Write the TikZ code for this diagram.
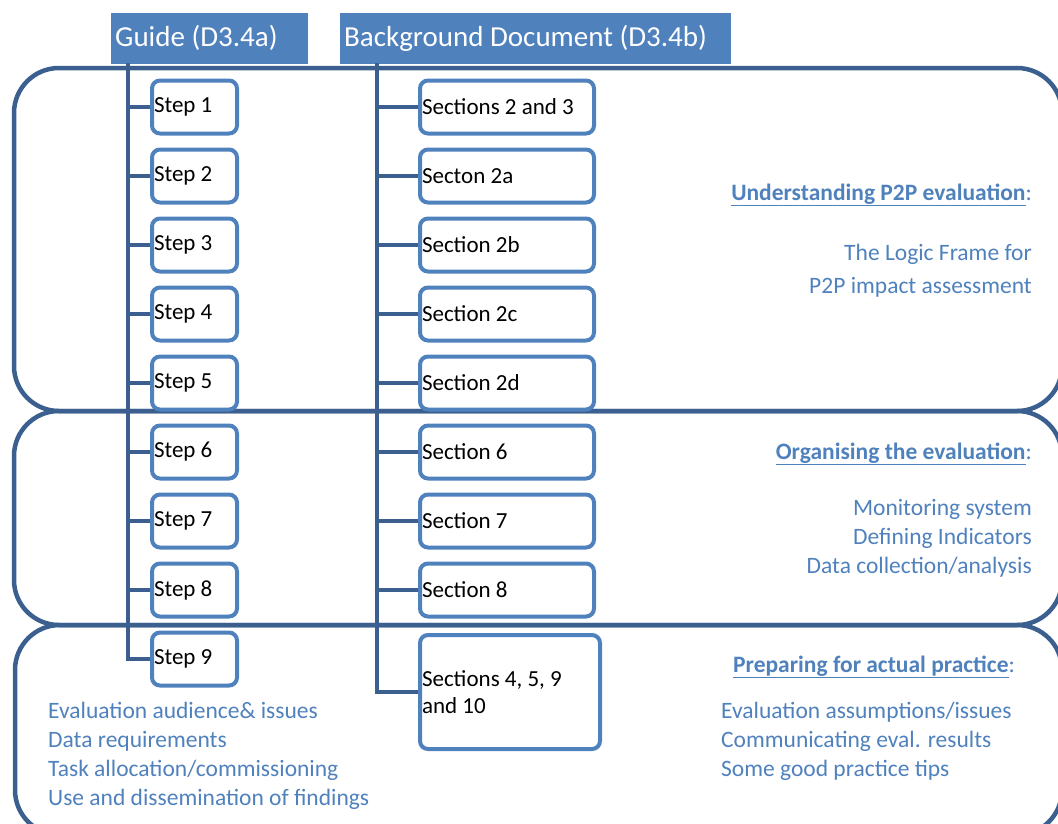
\documentclass[tikz,border=0pt]{standalone}
\usepackage{fontspec}
\setmainfont{Carlito}
\usetikzlibrary{positioning}

\definecolor{headblue}{RGB}{79,129,189}
\definecolor{lineblue}{RGB}{59,96,143}

\begin{document}
\begin{tikzpicture}[x=1pt, y=-1pt]
		\tikzstyle{head} = [fill=headblue, draw=headblue, text=white, anchor=north west, minimum height=50pt, inner xsep=4pt, font=\fontsize{29}{34}\selectfont]
		\tikzstyle{stepbox} = [draw=headblue, fill=white, line width=4pt, rounded corners=8pt, anchor=west, minimum height=53pt, inner xsep=2pt, text width=81pt, align=left, execute at begin node={\spaceskip=0pt\xspaceskip=0pt\relax}, font=\fontsize{23}{27}\selectfont]
		\tikzstyle{secbox} = [stepbox, text width=170pt]
		\tikzstyle{region} = [draw=lineblue, line width=4.5pt, rounded corners=45pt]
		\tikzstyle{trunk} = [draw=lineblue, line width=4pt]
		\tikzstyle{note} = [text=headblue, inner sep=0pt, font=\fontsize{23.5}{29}\selectfont]
		
		\useasboundingbox (0,0) rectangle (1058,823);
		
		% the three bands
		\begin{scope}
		\clip (0,0) rectangle (1058,823);
		\draw[region] (14,68) rectangle (1062,411);
		\draw[region] (14,411) rectangle (1062,625);
		\draw[region] (15,625) rectangle (1062,835);
		\end{scope}
		
		\node[head]		at (111,13)		(guide)		{\makebox[188pt][l]{Guide (D3.4a)}};
		\node[head]		at (340,13)		(backdoc)	{\makebox[382pt][l]{Background Document (D3.4b)}};
		
		\node[stepbox]	at (150,107)	(s1)	{Step 1};
		\node[stepbox]	at (150,176)	(s2)	{Step 2};
		\node[stepbox]	at (150,245)	(s3)	{Step 3};
		\node[stepbox]	at (150,314)	(s4)	{Step 4};
		\node[stepbox]	at (150,383)	(s5)	{Step 5};
		\node[stepbox]	at (150,452)	(s6)	{Step 6};
		\node[stepbox]	at (150,521)	(s7)	{Step 7};
		\node[stepbox]	at (150,590)	(s8)	{Step 8};
		\node[stepbox]	at (150,659)	(s9)	{Step 9};
		
		\node[secbox]	at (418,107)	(b1)	{Sections 2 and 3};
		\node[secbox]	at (418,176)	(b2)	{Secton 2a};
		\node[secbox]	at (418,245)	(b3)	{Section 2b};
		\node[secbox]	at (418,314)	(b4)	{Section 2c};
		\node[secbox]	at (418,383)	(b5)	{Section 2d};
		\node[secbox]	at (418,452)	(b6)	{Section 6};
		\node[secbox]	at (418,521)	(b7)	{Section 7};
		\node[secbox]	at (418,590)	(b8)	{Section 8};
		\node[secbox, text width=176pt, minimum height=114pt]
						at (418,692)	(b9)	{Sections 4, 5, 9\\and 10};
		
		\coordinate (gtop) at (128,63);
		\coordinate (btop) at (377,63);
		
		\draw[trunk] (gtop) |- (s9.west);
		\draw[trunk] (btop) |- (b9.west);
		\path[trunk]
		(s1.west -| gtop)	edge	(s1.west)
		(s2.west -| gtop)	edge	(s2.west)
		(s3.west -| gtop)	edge	(s3.west)
		(s4.west -| gtop)	edge	(s4.west)
		(s5.west -| gtop)	edge	(s5.west)
		(s6.west -| gtop)	edge	(s6.west)
		(s7.west -| gtop)	edge	(s7.west)
		(s8.west -| gtop)	edge	(s8.west);
		\path[trunk]
		(b1.west -| btop)	edge	(b1.west)
		(b2.west -| btop)	edge	(b2.west)
		(b3.west -| btop)	edge	(b3.west)
		(b4.west -| btop)	edge	(b4.west)
		(b5.west -| btop)	edge	(b5.west)
		(b6.west -| btop)	edge	(b6.west)
		(b7.west -| btop)	edge	(b7.west)
		(b8.west -| btop)	edge	(b8.west);
		
		% band texts
		\node[note, anchor=base east]	at (1032,200)	(understand)	{\underline{\textbf{Understanding P2P evaluation}}:};
		\node[note, anchor=base east]	at (1032,260)	(logic)
			{\begin{tabular}[t]{@{}r@{}}The Logic Frame for\\[4pt]P2P impact assessment\end{tabular}};
		\node[note, anchor=base east]	at (1032,459)	(organise)	{\underline{\textbf{Organising the evaluation}}:};
		\node[note, anchor=base east]	at (1032,515)	(monitor)
			{\begin{tabular}[t]{@{}r@{}}Monitoring system\\Defining Indicators\\Data collection/analysis\end{tabular}};
		\node[note, anchor=base west]	at (733,672)	(preparing)	{\underline{\textbf{Preparing for actual practice}}:};
		\node[note, anchor=base west]	at (721,718)	(practice)
			{\begin{tabular}[t]{@{}l@{}}Evaluation assumptions/issues\\Communicating eval. results\\Some good practice tips\end{tabular}};
		\node[note, anchor=base west]	at (48,718)	(guidetopics)
			{\begin{tabular}[t]{@{}l@{}}Evaluation audience\& issues\\Data requirements\\Task allocation/commissioning\\Use and dissemination of findings\end{tabular}};
\end{tikzpicture}
\end{document}
